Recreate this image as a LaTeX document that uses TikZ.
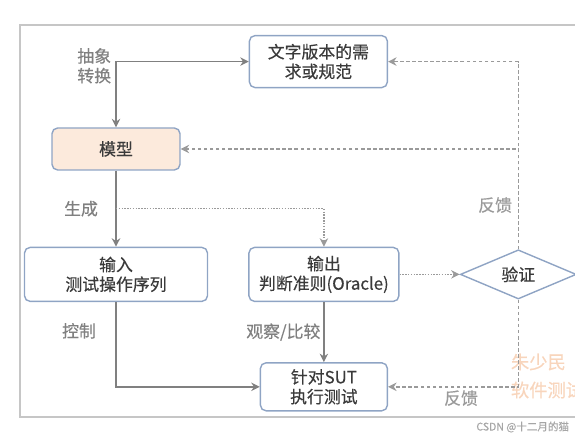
\documentclass[tikz,border=0pt]{standalone}
\usepackage{fontspec}
\setmainfont{Noto Sans CJK SC}[FakeBold=0.4]
\usetikzlibrary{arrows.meta,positioning,shapes.geometric}

\definecolor{linegray}{HTML}{808080}
\definecolor{dashgray}{HTML}{9A9A9A}
\definecolor{boxblue}{HTML}{8FA4C4}
\definecolor{modelfill}{HTML}{FCEADC}
\definecolor{txtgray}{HTML}{3A3A3A}
\definecolor{markorange}{HTML}{F8D5BC}

\begin{document}
\begin{tikzpicture}[
  font=\fontsize{12}{14}\selectfont,
  text=txtgray,
  head/.tip={Stealth[length=6pt,width=6pt]},
  box/.style={rectangle, draw=boxblue, line width=1pt, rounded corners=4pt, align=center, inner sep=2pt},
  decision/.style={diamond, draw=boxblue, line width=1pt, fill=white, minimum width=2.9cm, minimum height=1.15cm, inner sep=0pt},
  lbl/.style={inner sep=1pt, align=center},
  arr/.style={-head, linegray, line width=1pt},
  dasharr/.style={arr, dashgray, dash pattern=on 2.5pt off 1.8pt},
  dotarr/.style={arr, dashgray, densely dotted}
]
\useasboundingbox (0,0) rectangle (14.375,-10.925);
\clip (0,0) rectangle (14.375,-10.925);
\draw[gray!45, line width=1pt] (14.5,-0.625) -- (0.5,-0.625) -- (0.5,-10.425) -- (14.5,-10.425);

\node[box, fill=modelfill, minimum width=3.2cm, minimum height=1.05cm] (model) at (2.9,-3.725) {模型};
\node[box, minimum width=3.45cm, minimum height=1.3cm, above right=0.975cm and 1.7cm of model] (req) {文字版本的需\\求或规范};
\node[box, minimum width=4.575cm, minimum height=1.35cm, below=1.9cm of model] (input) {输入\\测试操作序列};
\node[box, minimum width=3.75cm, minimum height=1.35cm, right=1cm of input] (output) {输出\\判断准则(Oracle)};
\node[box, minimum width=3.175cm, minimum height=1.2cm, below=1.5cm of output] (sut) {针对SUT\\执行测试};
\node[decision, right=1.5cm of output] (verify) {验证};

\node[anchor=west, text=markorange, align=left, font=\fontsize{13}{20}\selectfont] (mark) at (12.65,-9.4) {朱少民\\软件测试};
\node[anchor=east, text=gray!70, font=\fontsize{7.5}{9}\selectfont] (csdn) at (14.35,-10.675) {CSDN @十二月的猫};

\draw[arr, head-head] (req.west) -| node[lbl, pos=0.5, anchor=east, xshift=-2pt, yshift=-3pt] (abs) {抽象\\转换} (model.north);
\draw[arr] (model) -- coordinate (split) node[lbl, left=0.4cm] (gen) {生成} (input);
\draw[dotarr] (split) -| (output.north);
\draw[arr] (input) |- node[lbl, pos=0.17, left=0.45cm] (ctrl) {控制} (sut);
\draw[arr] (output) -- node[lbl, left=1pt] (obs) {观察/比较} (output.south |- sut.north);
\draw[dotarr] (output) -- (verify);
\draw[dasharr] (verify.north) |- (req.east);
\draw[dasharr] (verify.north) |- node[lbl, pos=0.22, left=3pt] (fb1) {反馈} (model.east);
\draw[dasharr] (verify.south) |- node[lbl, pos=0.72, below=1pt] (fb2) {反馈} (sut.east);
\end{tikzpicture}
\end{document}
